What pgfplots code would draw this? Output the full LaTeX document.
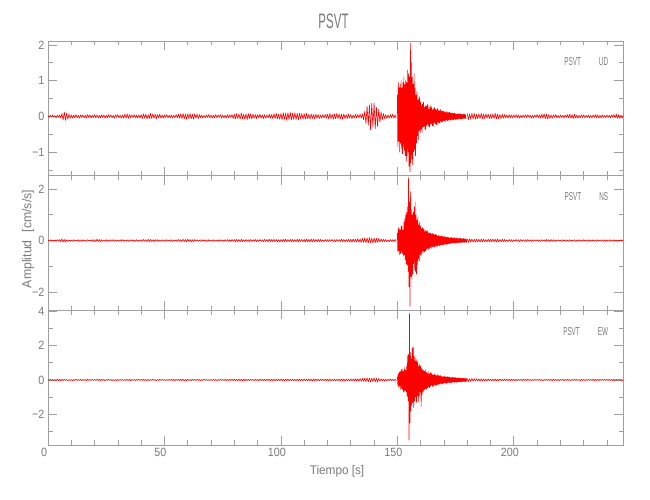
\documentclass[border=0pt]{standalone}
\usepackage{fontspec}
\setmainfont{Liberation Sans}[FakeStretch=0.9]
\newfontfamily\capsfont{Liberation Sans}[FakeStretch=0.55]
\newfontfamily\labfont{Liberation Sans}[FakeStretch=0.95]
\usepackage{pgfplots}
\usepackage{pgfplotstable}
\pgfplotsset{compat=1.18}
\definecolor{axgray}{HTML}{A0A0A0}
\definecolor{txtgray}{HTML}{7A7A7A}

% values in cm/s/s x 100 ; segment A: t=0..149.5 step 0.5 ; B: t=150..179.8 step 0.2 ; C: t=180..247 step 0.5
\pgfplotstableread{
v
2
-3
3
-2
4
-3
2
-4
3
-3
4
-5
8
-10
12
-11
9
-8
6
-5
4
-5
3
-4
5
-4
3
-5
4
-3
4
-4
3
-5
5
-3
4
-4
3
-3
5
-4
4
-5
3
-4
4
-3
4
-5
3
-4
5
-3
4
-4
3
-5
4
-3
5
-4
3
-4
4
-5
6
-5
7
-6
5
-4
4
-3
5
-4
3
-4
4
-5
5
-6
7
-5
6
-7
5
-6
8
-6
7
-5
6
-7
5
-4
6
-5
4
-5
4
-3
5
-4
3
-4
4
-5
3
-4
5
-4
6
-5
7
-6
8
-7
6
-8
7
-6
8
-7
6
-8
7
-5
6
-6
5
-4
4
-5
3
-4
4
-3
5
-4
4
-5
3
-4
5
-4
4
-3
5
-5
4
-4
3
-5
5
-4
4
-3
5
-6
6
-7
8
-6
7
-8
9
-7
6
-8
7
-9
8
-6
7
-7
6
-5
5
-6
5
-4
6
-5
4
-6
5
-5
4
-4
6
-5
5
-6
7
-6
8
-7
6
-8
8
-9
10
-8
9
-11
10
-9
11
-10
9
-8
10
-9
8
-10
9
-7
8
-8
7
-8
9
-7
6
-8
7
-6
5
-7
6
-5
5
-6
4
-5
5
-4
6
-5
6
-7
8
-6
7
-8
6
-7
8
-6
7
-7
6
-8
7
-6
5
-6
6
-5
5
-6
4
-5
6
-5
5
-4
6
-5
7
-9
14
-20
28
-25
32
-38
36
-30
38
-34
25
-28
20
-16
12
-10
8
-6
5
-6
4
-5
5
-4
6
-5
4
-5
}\udA
\pgfplotstableread{
v
60
-85
95
-70
80
-100
90
-75
100
-90
80
-105
95
-85
110
-95
90
-110
100
-125
95
-110
130
-100
120
-140
110
-155
205
-130
150
-120
110
-135
90
-100
120
-95
80
-110
60
-75
70
-55
45
-65
50
-40
55
-45
40
-35
30
-45
35
-30
40
-28
25
-35
30
-38
28
-25
35
-22
30
-28
20
-30
26
-22
32
-20
24
-26
18
-28
22
-18
25
-20
20
-22
18
-24
22
-16
18
-20
15
-18
20
-14
16
-17
14
-15
14
-12
15
-13
11
-14
12
-10
13
-12
10
-12
11
-9
12
-10
9
-11
10
-8
9
-10
8
-9
10
-7
8
-9
7
-8
7
-8
6
-7
8
-6
7
-7
6
-8
6
-7
5
-6
7
-5
6
-6
5
-7
}\udB
\pgfplotstableread{
v
8
-9
7
-8
9
-7
8
-8
6
-7
7
-6
8
-7
6
-6
7
-5
6
-6
5
-6
7
-6
8
-7
6
-7
5
-6
6
-5
5
-4
4
-5
5
-4
4
-4
4
-3
5
-4
4
-5
3
-4
4
-3
4
-4
5
-3
4
-5
3
-4
4
-3
5
-4
4
-5
6
-5
7
-6
6
-7
5
-6
4
-5
4
-3
5
-4
3
-4
4
-3
3
-4
4
-3
5
-4
6
-5
5
-6
6
-4
4
-5
3
-4
4
-3
4
-4
3
-3
4
-4
3
-4
4
-3
5
-4
4
-5
3
-4
4
-3
3
-4
4
-3
3
-4
4
-3
5
-4
6
-5
5
-6
4
-5
4
}\udC

\pgfplotstableread{
v
2
-2
3
-2
2
-3
2
-3
3
-2
4
-5
6
-5
4
-5
3
-3
2
-3
2
-3
3
-2
2
-2
3
-3
2
-3
3
-2
2
-3
3
-2
2
-2
3
-3
3
-4
5
-4
4
-5
3
-3
2
-3
3
-2
2
-3
3
-2
3
-3
2
-2
2
-3
3
-2
3
-2
2
-3
3
-3
2
-2
3
-3
2
-3
3
-2
2
-3
3
-3
4
-3
3
-4
5
-4
4
-3
3
-4
4
-3
3
-3
2
-3
3
-2
2
-3
3
-2
2
-3
3
-3
2
-2
3
-3
4
-3
3
-4
5
-4
4
-5
5
-4
4
-5
3
-4
4
-3
3
-3
2
-3
3
-2
3
-3
2
-3
3
-2
2
-3
3
-3
2
-2
3
-3
3
-2
2
-3
3
-3
4
-3
3
-4
4
-3
4
-5
5
-4
4
-5
5
-4
3
-4
4
-3
3
-4
4
-3
3
-3
4
-4
3
-4
4
-3
3
-4
5
-4
4
-5
5
-4
4
-5
5
-4
4
-4
3
-4
4
-5
5
-4
5
-5
4
-4
5
-4
4
-5
4
-4
5
-5
4
-4
5
-4
4
-5
6
-5
5
-6
6
-5
5
-4
4
-5
5
-4
4
-4
3
-4
4
-3
3
-4
4
-3
4
-4
3
-4
4
-3
4
-4
5
-4
4
-5
4
-4
5
-5
5
-6
6
-5
5
-6
7
-6
6
-7
8
-7
9
-8
10
-9
11
-8
9
-10
10
-8
9
-7
8
-6
6
-5
5
-4
4
-5
3
-4
4
-3
3
-4
4
-3
}\nsA
\pgfplotstableread{
v
30
-45
50
-40
45
-55
40
-50
60
-45
55
-50
40
-60
70
-55
85
-75
100
-90
110
-95
130
-120
245
-180
150
-255
190
-140
120
-150
100
-130
110
-90
130
-110
150
-120
100
-130
80
-95
90
-70
60
-80
70
-55
55
-60
45
-50
50
-40
45
-48
40
-42
38
-40
35
-32
40
-30
32
-35
28
-30
30
-26
28
-30
25
-24
28
-22
24
-26
22
-24
25
-20
22
-23
18
-20
21
-18
18
-20
16
-17
19
-15
17
-18
15
-16
14
-15
16
-13
14
-15
12
-14
13
-12
12
-13
10
-12
11
-10
12
-11
10
-9
10
-9
11
-10
9
-10
8
-9
10
-8
8
-9
7
-8
9
-7
8
-8
7
-7
7
-6
8
-7
6
-7
7
-6
6
-7
}\nsB
\pgfplotstableread{
v
6
-7
7
-6
6
-6
5
-6
6
-5
5
-6
6
-5
5
-5
4
-5
5
-4
5
-5
6
-5
5
-6
6
-5
4
-5
5
-4
4
-4
3
-4
4
-3
3
-4
3
-3
4
-3
3
-4
4
-3
3
-3
3
-4
4
-3
3
-3
2
-3
3
-2
3
-3
2
-3
3
-2
3
-3
4
-3
3
-4
4
-3
3
-3
2
-3
3
-2
2
-3
3
-2
3
-3
2
-3
3
-3
2
-2
3
-3
2
-3
3
-2
2
-3
3
-2
2
-3
3
-3
2
-2
3
-3
2
-3
3
-2
2
-2
3
-3
2
-3
2
-2
3
-3
2
-3
3
-2
2
-3
2
-2
3
-2
2
}\nsC

\pgfplotstableread{
v
3
-3
4
-3
3
-4
3
-3
4
-4
3
-4
5
-4
4
-3
3
-4
3
-3
3
-4
3
-3
4
-3
3
-3
4
-4
3
-3
3
-4
4
-3
3
-3
4
-3
3
-3
4
-4
5
-4
4
-3
3
-4
3
-3
4
-3
3
-4
3
-3
3
-4
4
-3
3
-3
3
-4
4
-3
3
-3
4
-4
3
-3
3
-4
3
-3
4
-3
3
-3
4
-3
3
-4
4
-4
3
-3
4
-3
3
-4
3
-3
4
-3
3
-3
3
-4
3
-3
4
-3
3
-3
4
-4
3
-3
4
-5
5
-4
4
-5
3
-4
4
-3
3
-4
4
-3
3
-3
4
-3
3
-4
3
-3
4
-3
3
-3
3
-4
3
-3
4
-3
3
-4
3
-3
4
-3
3
-3
4
-4
3
-3
4
-3
5
-4
5
-5
4
-5
5
-4
4
-5
5
-4
4
-4
3
-4
4
-3
3
-4
4
-3
3
-4
4
-3
4
-4
3
-4
4
-3
4
-4
5
-4
4
-5
4
-4
5
-4
5
-5
4
-5
5
-4
5
-5
4
-4
5
-5
4
-5
5
-4
4
-5
5
-4
6
-5
5
-6
6
-5
5
-6
6
-5
5
-4
4
-5
5
-4
4
-4
5
-4
4
-5
5
-4
4
-5
5
-5
4
-4
5
-5
6
-5
5
-6
6
-5
5
-6
6
-5
5
-6
7
-6
6
-7
8
-7
9
-8
10
-9
12
-10
11
-12
10
-9
12
-10
9
-11
8
-7
6
-5
5
-6
4
-5
4
-4
5
-4
4
-5
5
-4
}\ewA
\pgfplotstableread{
v
20
-30
35
-40
45
-35
50
-55
60
-50
65
-55
50
-70
60
-65
75
-60
55
-70
80
-95
140
-120
150
-350
385
-250
160
-180
120
-150
185
-130
190
-160
140
-120
130
-100
110
-130
120
-90
100
-125
80
-95
90
-70
80
-155
70
-85
60
-70
55
-60
50
-55
60
-50
45
-55
40
-45
50
-40
35
-45
40
-35
45
-30
35
-38
30
-35
28
-30
35
-28
30
-32
25
-28
30
-24
26
-28
24
-22
26
-20
22
-24
20
-22
18
-20
20
-18
22
-16
18
-20
16
-18
20
-15
16
-14
18
-15
14
-16
15
-13
16
-12
14
-12
13
-14
15
-11
12
-13
11
-12
12
-10
11
-12
10
-9
12
-10
9
-11
10
-9
11
-8
9
-10
8
-9
10
-8
}\ewB
\pgfplotstableread{
v
8
-9
7
-8
9
-7
8
-7
7
-6
6
-7
7
-6
6
-5
5
-6
6
-5
5
-6
5
-5
6
-5
4
-5
5
-4
4
-5
5
-4
4
-4
5
-4
4
-3
4
-4
3
-4
4
-3
3
-4
4
-3
3
-3
4
-3
3
-4
3
-3
4
-3
3
-3
4
-3
3
-4
3
-3
4
-3
3
-3
3
-4
4
-3
3
-3
3
-4
3
-3
4
-4
3
-3
4
-3
3
-4
3
-3
4
-3
3
-3
3
-4
4
-3
3
-4
3
-3
4
-3
3
-3
4
-4
3
-3
3
-4
4
-3
3
-3
4
-3
3
-3
4
-3
3
-4
4
-3
3
-3
4
-3
3
-4
3
}\ewC

\pgfplotsset{
  seis/.style={
    width=575.3bp, height=134.67bp, scale only axis,
    anchor=south west,
    xmin=0, xmax=247,
    xtick={0,50,100,150,200},
    minor xtick={10,20,30,40,60,70,80,90,110,120,130,140,160,170,180,190,210,220,230,240},
    tick pos=both,
    tick align=inside,
    major tick length=9bp, minor tick length=4.5bp,
    axis line style={axgray, line width=0.7bp},
    tick style={axgray, line width=0.7bp},
    tick label style={font=\fontsize{12}{12}\selectfont, text=txtgray},
    /pgf/number format/assume math mode=true,
  },
  trace/.style={red, line width=0.6bp, line join=round, no marks},
}
\tikzset{plab/.style={anchor=north east, inner sep=0pt, text=txtgray, font=\capsfont\fontsize{11.6}{12}\selectfont}}
\newcommand{\seg}[3]{\addplot[trace] table[x index=0, y index=0, x expr=#2+\coordindex*#3, y expr=\thisrowno{0}*0.01]{#1};}

\begin{document}
\begin{tikzpicture}
\useasboundingbox (0,0) rectangle (650bp,500bp);

% UD
\begin{axis}[seis, at={(48bp,324.33bp)},
  ymin=-1.66, ymax=2.11,
  ytick={-1,0,1,2}, yticklabels={−1,0,1,2},
  minor ytick={-1.5,-0.5,0.5,1.5},
  xticklabels={}]
\seg{\udA}{0}{0.5}
\seg{\udB}{150}{0.2}
\seg{\udC}{180}{0.5}
\node[plab] at ([xshift=-15bp,yshift=-16.6bp]rel axis cs:1,1) {PSVT\hspace{18bp}UD};
\end{axis}

% NS
\begin{axis}[seis, at={(48bp,189.67bp)},
  ymin=-2.71, ymax=2.52,
  ytick={-2,0,2}, yticklabels={−2,0,2},
  minor ytick={-1,1},
  xticklabels={}]
\seg{\nsA}{0}{0.5}
\seg{\nsB}{150}{0.2}
\seg{\nsC}{180}{0.5}
\node[plab] at ([xshift=-15bp,yshift=-16.6bp]rel axis cs:1,1) {PSVT\hspace{18bp}NS};
\end{axis}

% EW
\begin{axis}[seis, at={(48bp,55bp)},
  ymin=-3.78, ymax=4.05,
  ytick={-2,0,2,4}, yticklabels={−2,0,2,4},
  minor ytick={-3,-1,1,3},
  xticklabel style={xshift=-4bp}]
\seg{\ewA}{0}{0.5}
\seg{\ewB}{150}{0.2}
\seg{\ewC}{180}{0.5}
\node[plab] at ([xshift=-15bp,yshift=-16.6bp]rel axis cs:1,1) {PSVT\hspace{18bp}EW};
\end{axis}

\node[text=txtgray, font=\capsfont\fontsize{21}{21}\selectfont, inner sep=0pt] at (333.5bp,478.3bp) {PSVT};
\node[text=txtgray, font=\labfont\fontsize{12.5}{13}\selectfont, inner sep=0pt] at (337bp,29bp) {Tiempo\hspace{3bp}[s]};
\node[text=txtgray, font=\labfont\fontsize{13}{14}\selectfont, inner sep=0pt, rotate=90] at (28bp,261bp) {Amplitud\hspace{8bp}[cm/s/s]};
\end{tikzpicture}
\end{document}
